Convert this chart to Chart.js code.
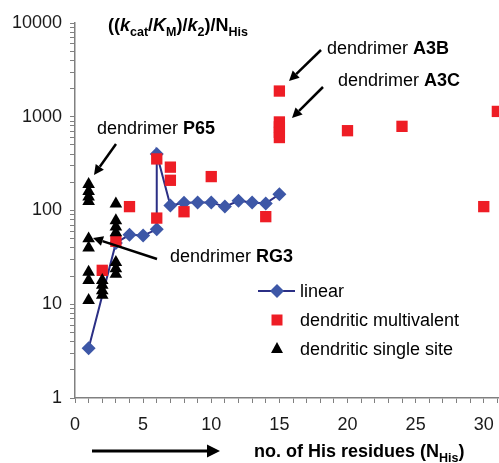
<!DOCTYPE html>
<html>
<head>
<meta charset="utf-8">
<script src="https://cdn.jsdelivr.net/npm/chart.js@4/dist/chart.umd.min.js"></script>
<style>
    body { margin: 0; overflow: hidden; background: #fff; }
    #wrap { position: relative; width: 522px; height: 463px; }
</style>
</head>
<body>
<div id="wrap"><canvas id="chart" width="522" height="463"></canvas></div>
<script>
// linear peptides
const linearX = [1, 3, 4, 5, 6, 6, 7, 8, 9, 10, 11, 12, 13, 14, 15];
const linearY = [3.4, 45, 55, 54, 63, 400, 113, 121, 122, 122, 110, 127, 122, 119, 149];

// dendritic multivalent
const multiX = [2, 3, 4, 6, 6, 7, 7, 8, 10, 14, 15, 15, 15, 15, 15, 20, 24, 30, 31];
const multiY = [23, 47, 110, 83, 355, 290, 210, 97, 230, 86, 1880, 880, 780, 680, 600, 710, 790, 110, 1140];

// dendritic single site
const singleX = [1, 1, 1, 1, 1, 1, 1, 1, 1, 2, 2, 2, 2, 3, 3, 3, 3, 3, 3, 3];
const singleY = [190, 160, 140, 125, 50, 40, 22, 18, 11, 18, 16, 14, 12.5, 118, 78, 67, 58, 28, 24, 21];

const xLabels = [0, 5, 10, 15, 20, 25, 30];
const yLabels = [1, 10, 100, 1000, 10000];

const FONT = '"Liberation Sans", Arial, Helvetica, sans-serif';
const AXIS = '#808080';
const BLUE = '#3d57a7';
const NAVY = '#2b2f85';
const RED = '#ee1d25';

function toPoints(xs, ys) {
    return xs.map((x, i) => ({ x: x, y: ys[i] }));
}

// draws a run of text pieces (bold / italic / subscript) from x on baseline y
function richText(ctx, x, y, parts) {
    ctx.textBaseline = 'alphabetic';
    ctx.textAlign = 'left';
    parts.forEach(p => {
        const size = p.sub ? 12.5 : 18;
        ctx.font = (p.i ? 'italic ' : '') + (p.b ? 'bold ' : '') + size + 'px ' + FONT;
        ctx.fillText(p.t, x, y + (p.sub ? 5 : 0));
        x += ctx.measureText(p.t).width;
    });
    return x;
}

function arrow(ctx, x1, y1, x2, y2, lw, head, half) {
    const a = Math.atan2(y2 - y1, x2 - x1);
    const bx = x2 - Math.cos(a) * head, by = y2 - Math.sin(a) * head;
    ctx.strokeStyle = '#000';
    ctx.fillStyle = '#000';
    ctx.lineWidth = lw;
    ctx.beginPath();
    ctx.moveTo(x1, y1);
    ctx.lineTo(bx, by);
    ctx.stroke();
    ctx.beginPath();
    ctx.moveTo(x2, y2);
    ctx.lineTo(bx + Math.sin(a) * half, by - Math.cos(a) * half);
    ctx.lineTo(bx - Math.sin(a) * half, by + Math.cos(a) * half);
    ctx.closePath();
    ctx.fill();
}

function marker(ctx, style, x, y) {
    ctx.beginPath();
    if (style === 'diamond') {
        ctx.fillStyle = BLUE;
        ctx.moveTo(x, y - 7); ctx.lineTo(x + 7, y); ctx.lineTo(x, y + 7); ctx.lineTo(x - 7, y);
    } else if (style === 'square') {
        ctx.fillStyle = RED;
        ctx.rect(x - 5.5, y - 5.5, 11, 11);
    } else {
        ctx.fillStyle = '#000';
        ctx.moveTo(x, y - 7); ctx.lineTo(x + 6, y + 4); ctx.lineTo(x - 6, y + 4);
    }
    ctx.closePath();
    ctx.fill();
}

const overlay = {
    id: 'overlay',
    afterDraw(chart) {
        const ctx = chart.ctx;
        ctx.save();
        ctx.fillStyle = '#000';

        // y quantity
        richText(ctx, 108, 31, [
            { t: '((', b: 1 }, { t: 'k', b: 1, i: 1 }, { t: 'cat', b: 1, sub: 1 },
            { t: '/', b: 1 }, { t: 'K', b: 1, i: 1 }, { t: 'M', b: 1, sub: 1 },
            { t: ')/', b: 1 }, { t: 'k', b: 1, i: 1 }, { t: '2', b: 1, sub: 1 },
            { t: ')/N', b: 1 }, { t: 'His', b: 1, sub: 1 }
        ]);

        // x quantity
        ctx.fillStyle = '#000';
        richText(ctx, 254, 457, [
            { t: 'no. of His residues (N', b: 1 }, { t: 'His', b: 1, sub: 1 }, { t: ')', b: 1 }
        ]);
        arrow(ctx, 92, 451, 220, 451, 3, 13, 6.5);

        // annotations
        ctx.fillStyle = '#000';
        richText(ctx, 97, 134, [{ t: 'dendrimer ' }, { t: 'P65', b: 1 }]);
        arrow(ctx, 116, 144, 94, 175, 2.5, 10, 5);
        ctx.fillStyle = '#000';
        richText(ctx, 170, 262, [{ t: 'dendrimer ' }, { t: 'RG3', b: 1 }]);
        arrow(ctx, 157, 259, 93, 238, 2.5, 10, 5);
        ctx.fillStyle = '#000';
        richText(ctx, 327, 54, [{ t: 'dendrimer ' }, { t: 'A3B', b: 1 }]);
        arrow(ctx, 321, 50, 289, 81, 2.5, 10, 5);
        ctx.fillStyle = '#000';
        richText(ctx, 338, 86, [{ t: 'dendrimer ' }, { t: 'A3C', b: 1 }]);
        arrow(ctx, 323, 87, 292, 118, 2.5, 10, 5);

        // legend
        ctx.strokeStyle = NAVY;
        ctx.lineWidth = 2;
        ctx.beginPath();
        ctx.moveTo(258, 291);
        ctx.lineTo(295, 291);
        ctx.stroke();
        marker(ctx, 'diamond', 277, 291);
        marker(ctx, 'square', 277, 320);
        marker(ctx, 'triangle', 277, 349);
        ctx.fillStyle = '#000';
        richText(ctx, 300, 297, [{ t: 'linear' }]);
        richText(ctx, 300, 326, [{ t: 'dendritic multivalent' }]);
        richText(ctx, 300, 355, [{ t: 'dendritic single site' }]);
        ctx.restore();
    }
};

new Chart(document.getElementById('chart').getContext('2d'), {
    type: 'scatter',
    data: {
        datasets: [
            {
                label: 'linear',
                data: toPoints(linearX, linearY),
                showLine: true,
                borderColor: NAVY,
                borderWidth: 2,
                pointStyle: 'rectRot',
                pointRadius: 7,
                pointBackgroundColor: BLUE,
                pointBorderColor: BLUE,
                pointBorderWidth: 0,
                order: 3
            },
            {
                label: 'dendritic multivalent',
                data: toPoints(multiX, multiY),
                pointStyle: 'rect',
                pointRadius: 8,
                backgroundColor: RED,
                borderColor: RED,
                pointBorderWidth: 0,
                order: 2
            },
            {
                label: 'dendritic single site',
                data: toPoints(singleX, singleY),
                pointStyle: 'triangle',
                pointRadius: 7.3,
                backgroundColor: '#000',
                borderColor: '#000',
                pointBorderWidth: 0,
                order: 1
            }
        ]
    },
    options: {
        responsive: false,
        animation: false,
        layout: { padding: { left: 0, top: 23, right: 0, bottom: 0 } },
        plugins: {
            legend: { display: false },
            tooltip: { enabled: false }
        },
        scales: {
            x: {
                type: 'linear',
                min: 0,
                max: 32,
                border: { color: AXIS, width: 1.5 },
                grid: { drawOnChartArea: false, tickLength: 5, tickColor: AXIS, tickWidth: 1 },
                ticks: {
                    autoSkip: false,
                    maxRotation: 0,
                    padding: 11,
                    color: '#1a1a1a',
                    font: { family: FONT, size: 18 },
                    callback: v => xLabels.includes(v) ? String(v) : ''
                },
                afterBuildTicks: s => {
                    const t = [];
                    for (let i = 0; i <= 32; i++) t.push({ value: i });
                    s.ticks = t;
                },
                afterFit: s => { s.height = 65; }
            },
            y: {
                type: 'logarithmic',
                min: 1,
                max: 10000,
                border: { color: AXIS, width: 1.5 },
                grid: { drawOnChartArea: false, tickLength: 5, tickColor: AXIS, tickWidth: 1 },
                ticks: {
                    autoSkip: false,
                    padding: 8,
                    color: '#1a1a1a',
                    font: { family: FONT, size: 18 },
                    callback: v => yLabels.includes(v) ? String(v) : ''
                },
                afterBuildTicks: s => {
                    const t = [];
                    for (let e = 0; e < 4; e++) {
                        for (let m = 1; m < 10; m++) t.push({ value: m * Math.pow(10, e) });
                    }
                    t.push({ value: 10000 });
                    s.ticks = t;
                },
                afterFit: s => { s.width = 75; }
            }
        }
    },
    plugins: [overlay]
});
</script>
</body>
</html>
